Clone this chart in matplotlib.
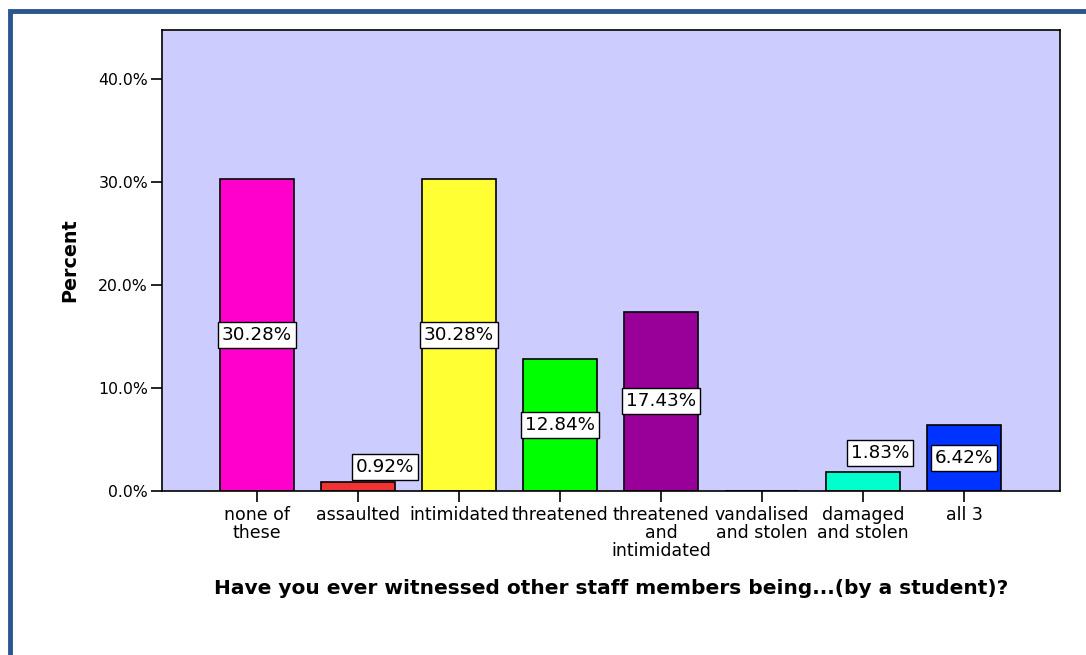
import numpy as np
import matplotlib.pyplot as plt
from matplotlib.patches import Rectangle
from matplotlib.ticker import FuncFormatter

# percent of responses per answer
categories = ["none of\nthese", "assaulted", "intimidated", "threatened",
              "threatened\nand\nintimidated", "vandalised\nand stolen",
              "damaged\nand stolen", "all 3"]
percents = [30.28, 0.92, 30.28, 12.84, 17.43, 0.0, 1.83, 6.42]
colors = ["#ff00cc", "#f03232", "#ffff33", "#00ff00", "#990099",
          "#ccccff", "#00ffcc", "#0033ff"]

plt.rcParams['font.family'] = ['DejaVu Sans']
fig = plt.figure(figsize=(10.86, 6.55), dpi=100)

# outer blue frame
fig.patches.append(Rectangle((10 / 1086, -0.1), 1.2, 1 - 11 / 655 + 0.1,
                             transform=fig.transFigure, fill=False,
                             edgecolor="#2b5590", linewidth=3.5))

ax = fig.add_axes([162 / 1086, 1 - 491 / 655, (1060 - 162) / 1086, (491 - 30) / 655])
ax.set_facecolor("#ccccff")

x = np.arange(len(categories))
ax.bar(x, percents, width=0.74, color=colors, edgecolor="black", linewidth=1.2, zorder=2)
ax.set_xlim(-0.94, 7.95)
ax.set_ylim(0, 44.8)

ax.set_yticks([0, 10, 20, 30, 40])
ax.yaxis.set_major_formatter(FuncFormatter(lambda v, p: "%.1f%%" % v))
ax.set_xticks(x)
ax.set_xticklabels(categories, fontsize=12.5, linespacing=0.98)
ax.tick_params(axis="y", labelsize=11.3, length=8, width=1.2, direction="out", pad=2)
ax.tick_params(axis="x", length=8, width=1.2, direction="out", pad=3)
for s in ax.spines.values():
    s.set_linewidth(1.2)

ax.set_ylabel("Percent", fontsize=13.8, fontweight="bold", labelpad=14)
ax.set_xlabel("Have you ever witnessed other staff members being...(by a student)?",
              fontsize=14.5, fontweight="bold", labelpad=14)

box = dict(boxstyle="square,pad=0.22", facecolor="white", edgecolor="black", linewidth=1)
# small bars get their label beside and above the bar
side = {1: (0.27, 1.4), 6: (0.17, 1.85)}
for i, v in enumerate(percents):
    if v == 0:
        continue
    if i in side:
        dx, dy = side[i]
        ax.text(i + dx, v + dy, "%.2f%%" % v, ha="center", va="center",
                fontsize=13.2, bbox=box, zorder=3)
    else:
        ax.text(i, v / 2, "%.2f%%" % v, ha="center", va="center",
                fontsize=13.2, bbox=box, zorder=3)

plt.savefig("out.png", dpi=100)
